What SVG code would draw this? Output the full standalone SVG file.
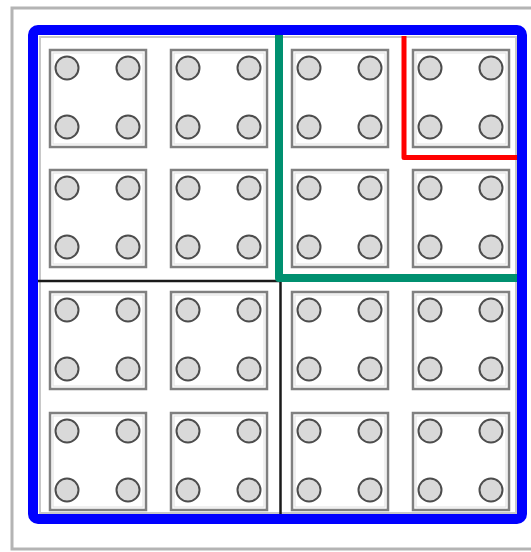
<svg xmlns="http://www.w3.org/2000/svg" xmlns:xlink="http://www.w3.org/1999/xlink" width="531" height="552" viewBox="0 0 531 552">
<style>
.tb{fill:#fff;stroke:#808080;stroke-width:2.5}
.ti{fill:none;stroke:#e0e0e0;stroke-width:1}
.bar{fill:#d9d9d9;stroke:#4d4d4d;stroke-width:2}
.div{stroke:#1a1a1a;stroke-width:2.5;fill:none}
</style>
<defs>
<g id="tile">
<rect class="tb" x="0" y="0" width="96" height="97"/>
<rect class="ti" x="3" y="3" width="90" height="91"/>
<circle class="bar" cx="17" cy="18" r="11.5"/>
<circle class="bar" cx="78" cy="18" r="11.5"/>
<circle class="bar" cx="17" cy="77" r="11.5"/>
<circle class="bar" cx="78" cy="77" r="11.5"/>
</g>
</defs>
<rect width="531" height="552" fill="#fff"/>
<rect x="12" y="8" width="530" height="541" fill="#fff" stroke="#b4b4b4" stroke-width="3"/>
<rect x="40" y="37" width="476" height="476" fill="#fff" stroke="#c8c8c8" stroke-width="2"/>
<g id="tiles">
<g id="t11"><use xlink:href="#tile" x="50" y="50"/></g>
<g id="t12"><use xlink:href="#tile" x="171" y="50"/></g>
<g id="t13"><use xlink:href="#tile" x="292" y="50"/></g>
<g id="t14"><use xlink:href="#tile" x="413" y="50"/></g>
<g id="t21"><use xlink:href="#tile" x="50" y="170"/></g>
<g id="t22"><use xlink:href="#tile" x="171" y="170"/></g>
<g id="t23"><use xlink:href="#tile" x="292" y="170"/></g>
<g id="t24"><use xlink:href="#tile" x="413" y="170"/></g>
<g id="t31"><use xlink:href="#tile" x="50" y="292"/></g>
<g id="t32"><use xlink:href="#tile" x="171" y="292"/></g>
<g id="t33"><use xlink:href="#tile" x="292" y="292"/></g>
<g id="t34"><use xlink:href="#tile" x="413" y="292"/></g>
<g id="t41"><use xlink:href="#tile" x="50" y="413"/></g>
<g id="t42"><use xlink:href="#tile" x="171" y="413"/></g>
<g id="t43"><use xlink:href="#tile" x="292" y="413"/></g>
<g id="t44"><use xlink:href="#tile" x="413" y="413"/></g>
</g>
<g id="connectors">
<path class="div" d="M38 281 H281 M280.5 281 V516"/>
<path d="M404 36 V157.5 H520" fill="none" stroke="#ff0000" stroke-width="5" stroke-linejoin="round"/>
<path d="M279 32 V278 H520" fill="none" stroke="#009070" stroke-width="8" stroke-linejoin="round"/>
<rect x="33" y="30" width="489" height="489" rx="5" fill="none" stroke="#0000ff" stroke-width="10"/>
</g>
</svg>
